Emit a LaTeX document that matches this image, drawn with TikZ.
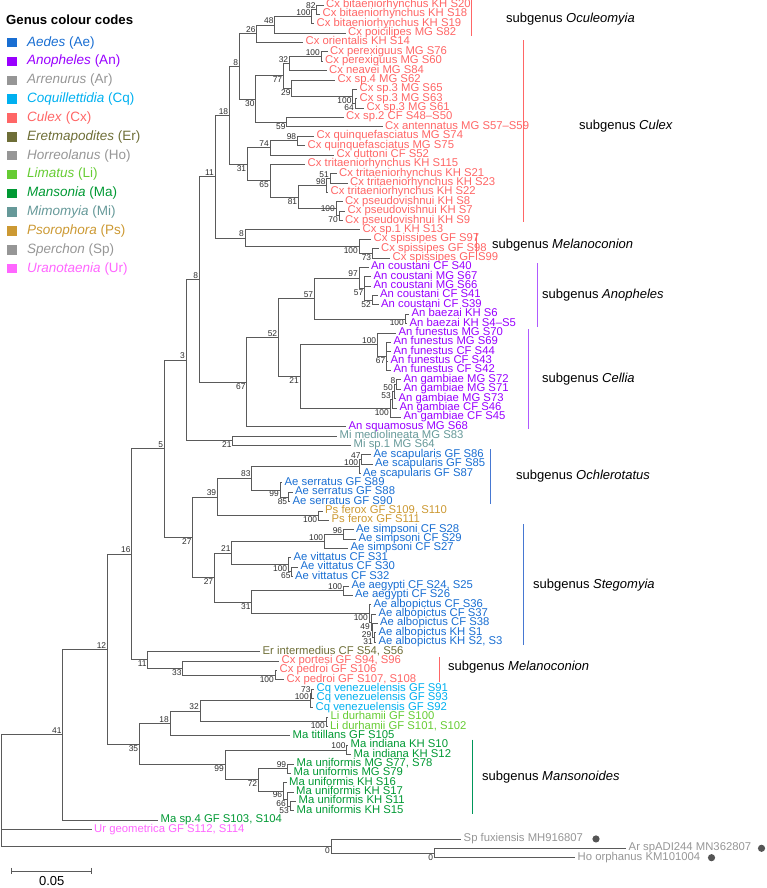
\documentclass[tikz,border=0pt]{standalone}
\usepackage{fontspec}
\setmainfont{Liberation Sans}
\definecolor{branch}{RGB}{90,90,90}
\definecolor{bstext}{RGB}{45,45,45}
\definecolor{cAe}{RGB}{25,110,210}
\definecolor{cAn}{RGB}{153,0,255}
\definecolor{cGy}{RGB}{150,150,150}
\definecolor{cCq}{RGB}{0,176,240}
\definecolor{cCx}{RGB}{255,102,102}
\definecolor{cEr}{RGB}{110,110,55}
\definecolor{cLi}{RGB}{102,204,51}
\definecolor{cMa}{RGB}{0,153,51}
\definecolor{cMi}{RGB}{102,153,153}
\definecolor{cPs}{RGB}{204,153,51}
\definecolor{cUr}{RGB}{255,102,255}
\definecolor{barAn}{RGB}{175,90,255}
\definecolor{barAe}{RGB}{70,120,210}
\definecolor{barMa}{RGB}{0,150,90}
\definecolor{dot}{RGB}{85,85,85}
\begin{document}
\begin{tikzpicture}[x=1pt,y=-9.37pt]
\tikzstyle{every node}+=[inner sep=0pt]
\tikzstyle{br}=[draw=branch,line width=0.8pt]
\tikzstyle{leaf}=[anchor=west,inner xsep=2.5pt,text height=6.8pt,text depth=1.8pt,font=\fontsize{11.3}{12}\selectfont]
\tikzstyle{bs}=[inner sep=1pt,text=bstext,font=\fontsize{8.4}{9}\selectfont]
\tikzstyle{sg}=[anchor=west,font=\fontsize{13}{15}\selectfont]
\tikzstyle{sgbar}=[line width=0.9pt]
\tikzstyle{swatch}=[minimum size=9.5pt]
\tikzstyle{genus}=[anchor=west,font=\fontsize{13.5}{15}\selectfont]
\useasboundingbox (0,0.4664) rectangle (766,95.236);
% legend
\node[anchor=west,font=\fontsize{13.2}{15}\selectfont\bfseries] (title) at (6,2.6) {Genus colour codes};
\node[swatch,fill=cAe] (kAe) at (12,5.02) {}; \node[genus,text=cAe] (gAe) at (27,5.02) {\textit{Aedes} (Ae)};
\node[swatch,fill=cAn] (kAn) at (12,7.03) {}; \node[genus,text=cAn] (gAn) at (27,7.03) {\textit{Anopheles} (An)};
\node[swatch,fill=cGy] (kAr) at (12,9.04) {}; \node[genus,text=cGy] (gAr) at (27,9.04) {\textit{Arrenurus} (Ar)};
\node[swatch,fill=cCq] (kCq) at (12,11.05) {}; \node[genus,text=cCq] (gCq) at (27,11.05) {\textit{Coquillettidia} (Cq)};
\node[swatch,fill=cCx] (kCx) at (12,13.06) {}; \node[genus,text=cCx] (gCx) at (27,13.06) {\textit{Culex} (Cx)};
\node[swatch,fill=cEr] (kEr) at (12,15.07) {}; \node[genus,text=cEr] (gEr) at (27,15.07) {\textit{Eretmapodites} (Er)};
\node[swatch,fill=cGy] (kHo) at (12,17.08) {}; \node[genus,text=cGy] (gHo) at (27,17.08) {\textit{Horreolanus} (Ho)};
\node[swatch,fill=cLi] (kLi) at (12,19.09) {}; \node[genus,text=cLi] (gLi) at (27,19.09) {\textit{Limatus} (Li)};
\node[swatch,fill=cMa] (kMa) at (12,21.10) {}; \node[genus,text=cMa] (gMa) at (27,21.10) {\textit{Mansonia} (Ma)};
\node[swatch,fill=cMi] (kMi) at (12,23.11) {}; \node[genus,text=cMi] (gMi) at (27,23.11) {\textit{Mimomyia} (Mi)};
\node[swatch,fill=cPs] (kPs) at (12,25.12) {}; \node[genus,text=cPs] (gPs) at (27,25.12) {\textit{Psorophora} (Ps)};
\node[swatch,fill=cGy] (kSp) at (12,27.13) {}; \node[genus,text=cGy] (gSp) at (27,27.13) {\textit{Sperchon} (Sp)};
\node[swatch,fill=cUr] (kUr) at (12,29.14) {}; \node[genus,text=cUr] (gUr) at (27,29.14) {\textit{Uranotaenia} (Ur)};
% leaves
\node[leaf,text=cCx] (l1) at (323.5,1) {Cx bitaeniorhynchus KH S20};
\node[leaf,text=cCx] (l2) at (320,2) {Cx bitaeniorhynchus KH S18};
\node[leaf,text=cCx] (l3) at (314,3) {Cx bitaeniorhynchus KH S19};
\node[leaf,text=cCx] (l4) at (345.5,4) {Cx poicilipes MG S82};
\node[leaf,text=cCx] (l5) at (303,5) {Cx orientalis KH S14};
\node[leaf,text=cCx] (l6) at (327.5,6) {Cx perexiguus MG S76};
\node[leaf,text=cCx] (l7) at (322.5,7) {Cx perexiguus MG S60};
\node[leaf,text=cCx] (l8) at (326.5,8) {Cx neavei MG S84};
\node[leaf,text=cCx] (l9) at (335,9) {Cx sp.4 MG S62};
\node[leaf,text=cCx] (l10) at (357,10) {Cx sp.3 MG S65};
\node[leaf,text=cCx] (l11) at (357,11) {Cx sp.3 MG S63};
\node[leaf,text=cCx] (l12) at (364,12) {Cx sp.3 MG S61};
\node[leaf,text=cCx] (l13) at (343.5,13) {Cx sp.2 CF S48--S50};
\node[leaf,text=cCx] (l14) at (382.5,14) {Cx antennatus MG S57--S59};
\node[leaf,text=cCx] (l15) at (314,15) {Cx quinquefasciatus MG S74};
\node[leaf,text=cCx] (l16) at (305,16) {Cx quinquefasciatus MG S75};
\node[leaf,text=cCx] (l17) at (334,17) {Cx duttoni CF S52};
\node[leaf,text=cCx] (l18) at (305,18) {Cx tritaeniorhynchus KH S115};
\node[leaf,text=cCx] (l19) at (336.5,19) {Cx tritaeniorhynchus KH S21};
\node[leaf,text=cCx] (l20) at (347.5,20) {Cx tritaeniorhynchus KH S23};
\node[leaf,text=cCx] (l21) at (328,21) {Cx tritaeniorhynchus KH S22};
\node[leaf,text=cCx] (l22) at (342.5,22) {Cx pseudovishnui KH S8};
\node[leaf,text=cCx] (l23) at (345,23) {Cx pseudovishnui KH S7};
\node[leaf,text=cCx] (l24) at (342.5,24) {Cx pseudovishnui KH S9};
\node[leaf,text=cCx] (l25) at (360,25) {Cx sp.1 KH S13};
\node[leaf,text=cCx] (l26) at (371,26) {Cx spissipes GF S97};
\node[leaf,text=cCx] (l27) at (378.5,27) {Cx spissipes GF S98};
\node[leaf,text=cCx] (l28) at (390,28) {Cx spissipes GF S99};
\node[leaf,text=cAn] (l29) at (368.5,29) {An coustani CF S40};
\node[leaf,text=cAn] (l30) at (371,30) {An coustani MG S67};
\node[leaf,text=cAn] (l31) at (371,31) {An coustani MG S66};
\node[leaf,text=cAn] (l32) at (377.5,32) {An coustani CF S41};
\node[leaf,text=cAn] (l33) at (378.5,33) {An coustani CF S39};
\node[leaf,text=cAn] (l34) at (409,34) {An baezai KH S6};
\node[leaf,text=cAn] (l35) at (407,35) {An baezai KH S4--S5};
\node[leaf,text=cAn] (l36) at (396,36) {An funestus MG S70};
\node[leaf,text=cAn] (l37) at (391,37) {An funestus MG S69};
\node[leaf,text=cAn] (l38) at (391,38) {An funestus CF S44};
\node[leaf,text=cAn] (l39) at (388,39) {An funestus CF S43};
\node[leaf,text=cAn] (l40) at (391,40) {An funestus CF S42};
\node[leaf,text=cAn] (l41) at (401,41) {An gambiae MG S72};
\node[leaf,text=cAn] (l42) at (401,42) {An gambiae MG S71};
\node[leaf,text=cAn] (l43) at (396,43) {An gambiae MG S73};
\node[leaf,text=cAn] (l44) at (397,44) {An gambiae CF S46};
\node[leaf,text=cAn] (l45) at (401,45) {An gambiae CF S45};
\node[leaf,text=cAn] (l46) at (346,46) {An squamosus MG S68};
\node[leaf,text=cMi] (l47) at (337,47) {Mi mediolineata MG S83};
\node[leaf,text=cMi] (l48) at (351,48) {Mi sp.1 MG S64};
\node[leaf,text=cAe] (l49) at (371,49) {Ae scapularis GF S86};
\node[leaf,text=cAe] (l50) at (372.5,50) {Ae scapularis GF S85};
\node[leaf,text=cAe] (l51) at (360.5,51) {Ae scapularis GF S87};
\node[leaf,text=cAe] (l52) at (282,52) {Ae serratus GF S89};
\node[leaf,text=cAe] (l53) at (292.5,53) {Ae serratus GF S88};
\node[leaf,text=cAe] (l54) at (290,54) {Ae serratus GF S90};
\node[leaf,text=cPs] (l55) at (322.5,55) {Ps ferox GF S109, S110};
\node[leaf,text=cPs] (l56) at (329,56) {Ps ferox GF S111};
\node[leaf,text=cAe] (l57) at (353.5,57) {Ae simpsoni CF S28};
\node[leaf,text=cAe] (l58) at (356,58) {Ae simpsoni CF S29};
\node[leaf,text=cAe] (l59) at (348,59) {Ae simpsoni CF S27};
\node[leaf,text=cAe] (l60) at (291,60) {Ae vittatus CF S31};
\node[leaf,text=cAe] (l61) at (298,61) {Ae vittatus CF S30};
\node[leaf,text=cAe] (l62) at (292.5,62) {Ae vittatus CF S32};
\node[leaf,text=cAe] (l63) at (349,63) {Ae aegypti CF S24, S25};
\node[leaf,text=cAe] (l64) at (352.5,64) {Ae aegypti CF S26};
\node[leaf,text=cAe] (l65) at (371,65) {Ae albopictus CF S36};
\node[leaf,text=cAe] (l66) at (376,66) {Ae albopictus CF S37};
\node[leaf,text=cAe] (l67) at (377.5,67) {Ae albopictus CF S38};
\node[leaf,text=cAe] (l68) at (376,68) {Ae albopictus KH S1};
\node[leaf,text=cAe] (l69) at (376,69) {Ae albopictus KH S2, S3};
\node[leaf,text=cEr] (l70) at (260,70) {Er intermedius CF S54, S56};
\node[leaf,text=cCx] (l71) at (279,71) {Cx portesi GF S94, S96};
\node[leaf,text=cCx] (l72) at (277,72) {Cx pedroi GF S106};
\node[leaf,text=cCx] (l73) at (284,73) {Cx pedroi GF S107, S108};
\node[leaf,text=cCq] (l74) at (314,74) {Cq venezuelensis GF S91};
\node[leaf,text=cCq] (l75) at (314,75) {Cq venezuelensis GF S93};
\node[leaf,text=cCq] (l76) at (313,76) {Cq venezuelensis GF S92};
\node[leaf,text=cLi] (l77) at (328,77) {Li durhamii GF S100};
\node[leaf,text=cLi] (l78) at (327.5,78) {Li durhamii GF S101, S102};
\node[leaf,text=cMa] (l79) at (290,79) {Ma titillans GF S105};
\node[leaf,text=cMa] (l80) at (348,80) {Ma indiana KH S10};
\node[leaf,text=cMa] (l81) at (351,81) {Ma indiana KH S12};
\node[leaf,text=cMa] (l82) at (294,82) {Ma uniformis MG S77, S78};
\node[leaf,text=cMa] (l83) at (291,83) {Ma uniformis MG S79};
\node[leaf,text=cMa] (l84) at (286.5,84) {Ma uniformis KH S16};
\node[leaf,text=cMa] (l85) at (293.5,85) {Ma uniformis KH S17};
\node[leaf,text=cMa] (l86) at (296,86) {Ma uniformis KH S11};
\node[leaf,text=cMa] (l87) at (294,87) {Ma uniformis KH S15};
\node[leaf,text=cMa] (l88) at (158,88) {Ma sp.4 GF S103, S104};
\node[leaf,text=cUr] (l89) at (91.5,89) {Ur geometrica GF S112, S114};
\node[leaf,text=cGy] (l90) at (461,90) {Sp fuxiensis MH916807};
\node[leaf,text=cGy] (l91) at (626,91) {Ar spADI244 MN362807};
\node[leaf,text=cGy] (l92) at (575,92) {Ho orphanus KM101004};
\fill[dot] (596,90) circle (3.6pt);
\fill[dot] (761.5,91) circle (3.6pt);
\fill[dot] (711.5,92) circle (3.6pt);
% Culex
\coordinate (n82) at (316.7,1.5); \node[bs,above left] (n82t) at (n82) {82}; \draw[br] (n82) |- (l1) (n82) |- (l2);
\coordinate (n100a) at (311.7,2.25); \node[bs,above left] (n100at) at (n100a) {100}; \draw[br] (n100a) |- (n82) (n100a) |- (l3);
\coordinate (n48) at (274.7,3.125); \node[bs,above left] (n48t) at (n48) {48}; \draw[br] (n48) |- (n100a) (n48) |- (l4);
\coordinate (n26) at (256.7,4.0625); \node[bs,above left] (n26t) at (n26) {26}; \draw[br] (n26) |- (n48) (n26) |- (l5);
\coordinate (n100b) at (321,6.5); \node[bs,above left] (n100bt) at (n100b) {100}; \draw[br] (n100b) |- (l6) (n100b) |- (l7);
\coordinate (n32a) at (289.3,7.25); \node[bs,above left] (n32at) at (n32a) {32}; \draw[br] (n32a) |- (n100b) (n32a) |- (l8);
\coordinate (n64) at (355,11.5); \node[bs,below left] (n64t) at (n64) {64}; \draw[br] (n64) |- (l11) (n64) |- (l12);
\coordinate (n100c) at (352.7,10.75); \node[bs,below left] (n100ct) at (n100c) {100}; \draw[br] (n100c) |- (l10) (n100c) |- (n64);
\coordinate (n29a) at (291.7,9.875); \node[bs,below left] (n29at) at (n29a) {29}; \draw[br] (n29a) |- (l9) (n29a) |- (n100c);
\coordinate (n77) at (283.3,8.5625); \node[bs,below left] (n77t) at (n77) {77}; \draw[br] (n77) |- (n32a) (n77) |- (n29a);
\coordinate (n59) at (286.7,13.5); \node[bs,below left] (n59t) at (n59) {59}; \draw[br] (n59) |- (l13) (n59) |- (l14);
\coordinate (n30) at (255.7,11.031); \node[bs,below left] (n30t) at (n30) {30}; \draw[br] (n30) |- (n77) (n30) |- (n59);
\coordinate (n8a) at (239.3,7.547); \node[bs,above left] (n8at) at (n8a) {8}; \draw[br] (n8a) |- (n26) (n8a) |- (n30);
\coordinate (n98a) at (297.3,15.5); \node[bs,above left] (n98at) at (n98a) {98}; \draw[br] (n98a) |- (l15) (n98a) |- (l16);
\coordinate (n74) at (270,16.25); \node[bs,above left] (n74t) at (n74) {74}; \draw[br] (n74) |- (n98a) (n74) |- (l17);
\coordinate (n51) at (330,19.5); \node[bs,above left] (n51t) at (n51) {51}; \draw[br] (n51) |- (l19) (n51) |- (l20);
\coordinate (n98b) at (326.7,20.25); \node[bs,above left] (n98bt) at (n98b) {98}; \draw[br] (n98b) |- (n51) (n98b) |- (l21);
\coordinate (n70) at (339,23.5); \node[bs,below left] (n70t) at (n70) {70}; \draw[br] (n70) |- (l23) (n70) |- (l24);
\coordinate (n100d) at (336,22.75); \node[bs,left] (n100dt) at (n100d) {100}; \draw[br] (n100d) |- (l22) (n100d) |- (n70);
\coordinate (n81) at (298.3,21.5); \node[bs,below left] (n81t) at (n81) {81}; \draw[br] (n81) |- (n98b) (n81) |- (n100d);
\coordinate (n65a) at (270,19.75); \node[bs,below left] (n65at) at (n65a) {65}; \draw[br] (n65a) |- (l18) (n65a) |- (n81);
\coordinate (n31a) at (247.3,18); \node[bs,below left] (n31at) at (n31a) {31}; \draw[br] (n31a) |- (n74) (n31a) |- (n65a);
\coordinate (n18a) at (229.3,12.773); \node[bs,above left] (n18at) at (n18a) {18}; \draw[br] (n18a) |- (n8a) (n18a) |- (n31a);
\coordinate (n73a) at (372.3,27.5); \node[bs,below left] (n73at) at (n73a) {73}; \draw[br] (n73a) |- (l27) (n73a) |- (l28);
\coordinate (n100e) at (359,26.75); \node[bs,below left] (n100et) at (n100e) {100}; \draw[br] (n100e) |- (l26) (n100e) |- (n73a);
\coordinate (n8b) at (245,25.875); \node[bs,above left] (n8bt) at (n8b) {8}; \draw[br] (n8b) |- (l25) (n8b) |- (n100e);
\coordinate (n11a) at (215,19.324); \node[bs,above left] (n11at) at (n11a) {11}; \draw[br] (n11a) |- (n18a) (n11a) |- (n8b);
% Anopheles, Mimomyia
\coordinate (n52b) at (372,32.5); \node[bs,below left] (n52bt) at (n52b) {52}; \draw[br] (n52b) |- (l32) (n52b) |- (l33);
\coordinate (n57b) at (364.5,31.25); \node[bs,below left] (n57bt) at (n57b) {57}; \draw[br] (n57b) |- (l30) (n57b) |- (l31) (n57b) |- (n52b);
\coordinate (n97) at (359,30.125); \node[bs,above left] (n97t) at (n97) {97}; \draw[br] (n97) |- (l29) (n97) |- (n57b);
\coordinate (n100f) at (405,34.5); \node[bs,below left] (n100ft) at (n100f) {100}; \draw[br] (n100f) |- (l34) (n100f) |- (l35);
\coordinate (n57a) at (314.3,32.313); \node[bs,above left] (n57at) at (n57a) {57}; \draw[br] (n57a) |- (n97) (n57a) |- (n100f);
\coordinate (n67b) at (386.5,38.5); \node[bs,below left] (n67bt) at (n67b) {67}; \draw[br] (n67b) |- (l37) (n67b) |- (l38) (n67b) |- (l39) (n67b) |- (l40);
\coordinate (n100g) at (377.3,37.25); \node[bs,above left] (n100gt) at (n100g) {100}; \draw[br] (n100g) |- (l36) (n100g) |- (n67b);
\coordinate (n8d) at (396.5,41.5); \node[bs,above left] (n8dt) at (n8d) {8}; \draw[br] (n8d) |- (l41) (n8d) |- (l42);
\coordinate (n50) at (394,42.25); \node[bs,above left] (n50t) at (n50) {50}; \draw[br] (n50) |- (n8d) (n50) |- (l43);
\coordinate (n53a) at (392,43.125); \node[bs,above left] (n53at) at (n53a) {53}; \draw[br] (n53a) |- (n50) (n53a) |- (l44);
\coordinate (n100h) at (390,44.063); \node[bs,below left] (n100ht) at (n100h) {100}; \draw[br] (n100h) |- (n53a) (n100h) |- (l45);
\coordinate (n21a) at (300,40.656); \node[bs,below left] (n21at) at (n21a) {21}; \draw[br] (n21a) |- (n100g) (n21a) |- (n100h);
\coordinate (n52a) at (278.3,36.484); \node[bs,above left] (n52at) at (n52a) {52}; \draw[br] (n52a) |- (n57a) (n52a) |- (n21a);
\coordinate (n67a) at (246.7,41.242); \node[bs,below left] (n67at) at (n67a) {67}; \draw[br] (n67a) |- (n52a) (n67a) |- (l46);
\coordinate (n8c) at (199.3,30.283); \node[bs,above left] (n8ct) at (n8c) {8}; \draw[br] (n8c) |- (n11a) (n8c) |- (n67a);
\coordinate (n21b) at (232.7,47.5); \node[bs,below left] (n21bt) at (n21b) {21}; \draw[br] (n21b) |- (l47) (n21b) |- (l48);
\coordinate (n3) at (186,38.892); \node[bs,above left] (n3t) at (n3) {3}; \draw[br] (n3) |- (n8c) (n3) |- (n21b);
% Aedes, Psorophora
\coordinate (n47) at (361.7,49.5); \node[bs,above left] (n47t) at (n47) {47}; \draw[br] (n47) |- (l49) (n47) |- (l50);
\coordinate (n100j) at (359.3,50.25); \node[bs,above left] (n100jt) at (n100j) {100}; \draw[br] (n100j) |- (n47) (n100j) |- (l51);
\coordinate (n85) at (288.3,53.5); \node[bs,below left] (n85t) at (n85) {85}; \draw[br] (n85) |- (l53) (n85) |- (l54);
\coordinate (n99a) at (280,52.75); \node[bs,below left] (n99at) at (n99a) {99}; \draw[br] (n99a) |- (l52) (n99a) |- (n85);
\coordinate (n83) at (251.7,51.5); \node[bs,above left] (n83t) at (n83) {83}; \draw[br] (n83) |- (n100j) (n83) |- (n99a);
\coordinate (n100i) at (318.3,55.5); \node[bs,below left] (n100it) at (n100i) {100}; \draw[br] (n100i) |- (l55) (n100i) |- (l56);
\coordinate (n39) at (217.3,53.5); \node[bs,above left] (n39t) at (n39) {39}; \draw[br] (n39) |- (n83) (n39) |- (n100i);
\coordinate (n96a) at (343.3,57.5); \node[bs,above left] (n96at) at (n96a) {96}; \draw[br] (n96a) |- (l57) (n96a) |- (l58);
\coordinate (n100k) at (324.3,58.25); \node[bs,above left] (n100kt) at (n100k) {100}; \draw[br] (n100k) |- (n96a) (n100k) |- (l59);
\coordinate (n65b) at (291.7,61.5); \node[bs,below left] (n65bt) at (n65b) {65}; \draw[br] (n65b) |- (l61) (n65b) |- (l62);
\coordinate (n100l) at (288.3,60.75); \node[bs,below left] (n100lt) at (n100l) {100}; \draw[br] (n100l) |- (l60) (n100l) |- (n65b);
\coordinate (n21c) at (231.7,59.5); \node[bs,above left] (n21ct) at (n21c) {21}; \draw[br] (n21c) |- (n100k) (n21c) |- (n100l);
\coordinate (n100m) at (343.3,63.5); \node[bs,above left] (n100mt) at (n100m) {100}; \draw[br] (n100m) |- (l63) (n100m) |- (l64);
\coordinate (n31c) at (374,68.5); \node[bs,below left] (n31ct) at (n31c) {31}; \draw[br] (n31c) |- (l68) (n31c) |- (l69);
\coordinate (n29b) at (372.5,67.75); \node[bs,below left] (n29bt) at (n29b) {29}; \draw[br] (n29b) |- (l67) (n29b) |- (n31c);
\coordinate (n49) at (371,66.875); \node[bs,below left] (n49t) at (n49) {49}; \draw[br] (n49) |- (l66) (n49) |- (n29b);
\coordinate (n100n) at (369,65.938); \node[bs,below left] (n100nt) at (n100n) {100}; \draw[br] (n100n) |- (l65) (n100n) |- (n49);
\coordinate (n31b) at (251.7,64.719); \node[bs,below left] (n31bt) at (n31b) {31}; \draw[br] (n31b) |- (n100m) (n31b) |- (n100n);
\coordinate (n27b) at (214.3,62.11); \node[bs,below left] (n27bt) at (n27b) {27}; \draw[br] (n27b) |- (n21c) (n27b) |- (n31b);
\coordinate (n27a) at (192.7,57.805); \node[bs,below left] (n27at) at (n27a) {27}; \draw[br] (n27a) |- (n39) (n27a) |- (n27b);
\coordinate (n5) at (164.3,48.349); \node[bs,above left] (n5t) at (n5) {5}; \draw[br] (n5) |- (n3) (n5) |- (n27a);
% Eretmapodites, Culex (Melanoconion)
\coordinate (n100o) at (275,72.5); \node[bs,below left] (n100ot) at (n100o) {100}; \draw[br] (n100o) |- (l72) (n100o) |- (l73);
\coordinate (n33) at (182.7,71.75); \node[bs,below left] (n33t) at (n33) {33}; \draw[br] (n33) |- (l71) (n33) |- (n100o);
\coordinate (n11b) at (147.7,70.875); \node[bs,below left] (n11bt) at (n11b) {11}; \draw[br] (n11b) |- (l70) (n11b) |- (n33);
\coordinate (n16) at (131.7,59.612); \node[bs,above left] (n16t) at (n16) {16}; \draw[br] (n16) |- (n5) (n16) |- (n11b);
% Coquillettidia, Limatus, Mansonia
\coordinate (n73b) at (311.7,74.5); \node[bs,above left] (n73bt) at (n73b) {73}; \draw[br] (n73b) |- (l74) (n73b) |- (l75);
\coordinate (n100p) at (310,75.25); \node[bs,above left] (n100pt) at (n100p) {100}; \draw[br] (n100p) |- (n73b) (n100p) |- (l76);
\coordinate (n100q) at (326,77.5); \node[bs,below left] (n100qt) at (n100q) {100}; \draw[br] (n100q) |- (l77) (n100q) |- (l78);
\coordinate (n32b) at (200,76.375); \node[bs,above left] (n32bt) at (n32b) {32}; \draw[br] (n32b) |- (n100p) (n32b) |- (n100q);
\coordinate (n18b) at (170,77.688); \node[bs,above left] (n18bt) at (n18b) {18}; \draw[br] (n18b) |- (n32b) (n18b) |- (l79);
\coordinate (n100r) at (346.7,80.5); \node[bs,above left] (n100rt) at (n100r) {100}; \draw[br] (n100r) |- (l80) (n100r) |- (l81);
\coordinate (n99c) at (287.3,82.5); \node[bs,above left] (n99ct) at (n99c) {99}; \draw[br] (n99c) |- (l82) (n99c) |- (l83);
\coordinate (n53b) at (290,86.5); \node[bs,below left] (n53bt) at (n53b) {53}; \draw[br] (n53b) |- (l86) (n53b) |- (l87);
\coordinate (n66) at (287,85.75); \node[bs,below left] (n66t) at (n66) {66}; \draw[br] (n66) |- (l85) (n66) |- (n53b);
\coordinate (n96b) at (283.3,84.875); \node[bs,below left] (n96bt) at (n96b) {96}; \draw[br] (n96b) |- (l84) (n96b) |- (n66);
\coordinate (n72) at (258.3,83.688); \node[bs,below left] (n72t) at (n72) {72}; \draw[br] (n72) |- (n99c) (n72) |- (n96b);
\coordinate (n99b) at (225,82.094); \node[bs,below left] (n99bt) at (n99b) {99}; \draw[br] (n99b) |- (n100r) (n99b) |- (n72);
\coordinate (n35) at (139.3,79.891); \node[bs,below left] (n35t) at (n35) {35}; \draw[br] (n35) |- (n18b) (n35) |- (n99b);
\coordinate (n12) at (107.3,69.752); \node[bs,above left] (n12t) at (n12) {12}; \draw[br] (n12) |- (n16) (n12) |- (n35);
\coordinate (n41) at (62.7,78.876); \node[bs,above left] (n41t) at (n41) {41}; \draw[br] (n41) |- (n12) (n41) |- (l88);
% outgroup and root
\coordinate (n0b) at (434.3,91.5); \node[bs,below left] (n0bt) at (n0b) {0}; \draw[br] (n0b) |- (l91) (n0b) |- (l92);
\coordinate (n0a) at (331,90.75); \node[bs,below left] (n0at) at (n0a) {0}; \draw[br] (n0a) |- (l90) (n0a) |- (n0b);
\coordinate (root) at (1,84.813); \draw[br] (root) |- (n41) (root) |- (l89) (root) |- (n0a);
% subgenera
\draw[sgbar,cCx] (471,0.47) -- (471,4.3);
\node[sg] (sOcu) at (506,2.5) {subgenus \textit{Oculeomyia}};
\draw[sgbar,cCx] (523,4.75) -- (523,24.2);
\node[sg] (sCul) at (579,13.9) {subgenus \textit{Culex}};
\draw[sgbar,cCx] (476,25.3) -- (476,28.2);
\node[sg] (sMel) at (492,26.6) {subgenus \textit{Melanoconion}};
\draw[sgbar,barAn] (537,28.55) -- (537,35.35);
\node[sg] (sAno) at (542,31.95) {subgenus \textit{Anopheles}};
\draw[sgbar,barAn] (528,35.6) -- (528,46.2);
\node[sg] (sCel) at (542,40.9) {subgenus \textit{Cellia}};
\draw[sgbar,barAe] (490,48.4) -- (490,54.3);
\node[sg] (sOch) at (516,51.3) {subgenus \textit{Ochlerotatus}};
\draw[sgbar,barAe] (523,56.4) -- (523,69.3);
\node[sg] (sSte) at (533,62.9) {subgenus \textit{Stegomyia}};
\draw[sgbar,cCx] (439,70.6) -- (439,73.3);
\node[sg] (sMe2) at (448,71.65) {subgenus \textit{Melanoconion}};
\draw[sgbar,barMa] (472,79.4) -- (472,87.3);
\node[sg] (sMan) at (482,83.4) {subgenus \textit{Mansonoides}};
% scale
\draw[br] (11.7,93.42) -- (91.7,93.42);
\draw[br] (11.7,93.1) -- (11.7,93.74);
\draw[br] (91.7,93.1) -- (91.7,93.74);
\node[text height=9.2pt,text depth=0pt,font=\fontsize{13}{14}\selectfont] (scale) at (51.7,94.5) {0.05};
\end{tikzpicture}
\end{document}
